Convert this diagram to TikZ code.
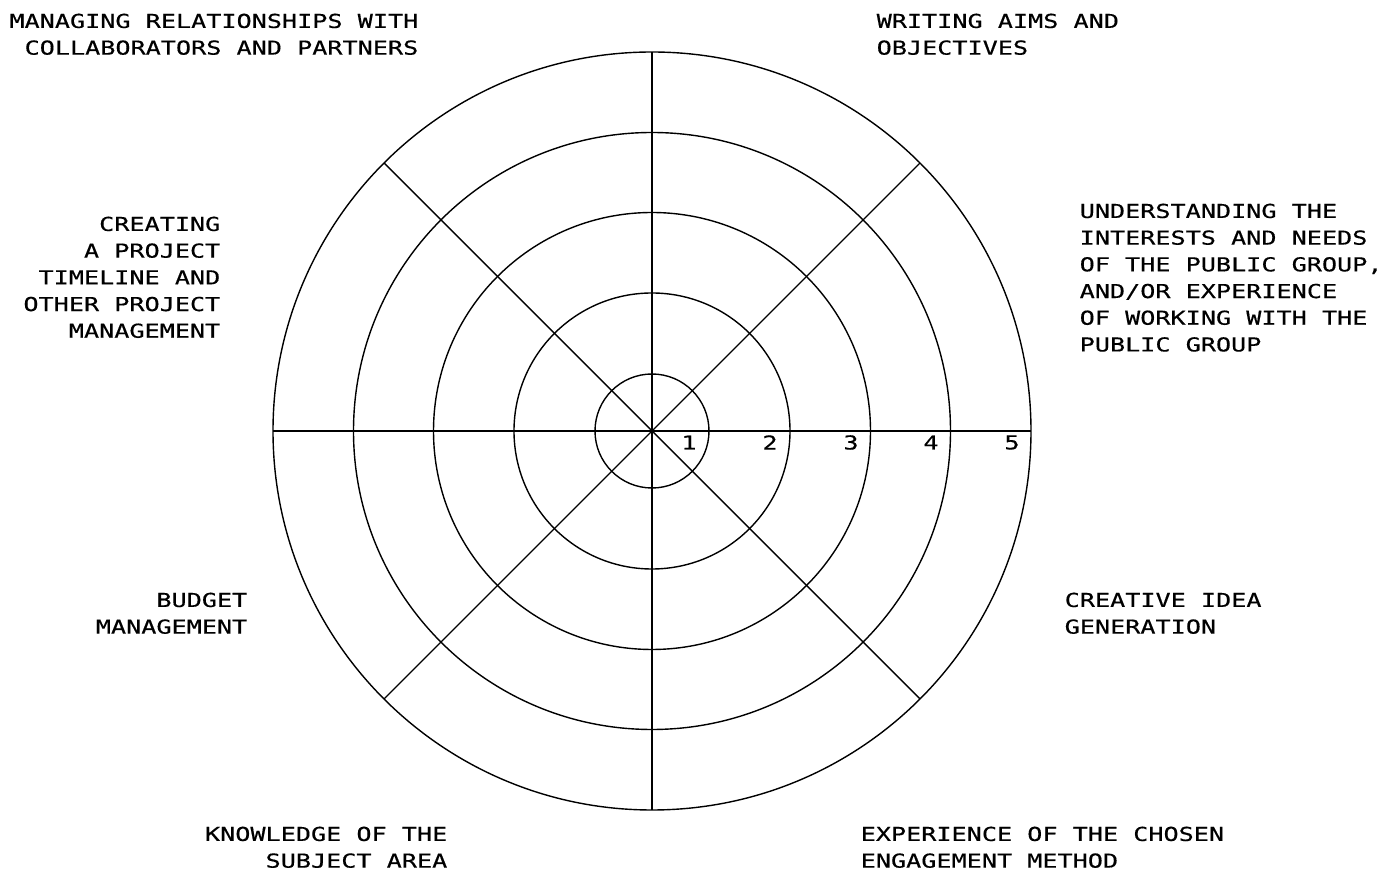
\documentclass[tikz,border=0pt]{standalone}
\usepackage{fontspec}
\usetikzlibrary{calc}
\newfontfamily\labelfont[FakeStretch=1.31,FakeBold=0.4]{DejaVu Sans Mono}
\begin{document}
\begin{tikzpicture}[x=0.5pt,y=-0.5pt,line width=0.7pt,
  lbl/.style={font=\labelfont\fontsize{9.6pt}{13.35pt}\selectfont,inner sep=0pt},
  lblr/.style={lbl,align=right,anchor=north east},
  lbll/.style={lbl,align=left,anchor=north west},
  num/.style={font=\labelfont\fontsize{9.6pt}{13.35pt}\selectfont,inner sep=0pt,anchor=center}]
\path[use as bounding box] (0,0) rectangle (1394,870);
\coordinate (c) at (652,431);
% rings
\foreach \r in {57,138,218.5,298.5,379} \draw (c) circle[radius=\r*0.5pt];
% spokes
\foreach \a in {0,45,...,315} {
  \coordinate (o\a) at ($(c)+(\a:379)$);
  \draw (c) -- (o\a);
}
% scale numbers
\node[num] (n1) at (689,442.5) {1};
\node[num] (n2) at (770,442.5) {2};
\node[num] (n3) at (851,442.5) {3};
\node[num] (n4) at (931,442.5) {4};
\node[num] (n5) at (1012,442.5) {5};
% labels
\node[lblr] (l1) at (419,13) {MANAGING RELATIONSHIPS WITH\\COLLABORATORS AND PARTNERS};
\node[lbll] (l2) at (876,13) {WRITING AIMS AND\\OBJECTIVES};
\node[lbll] (l3) at (1079,203) {UNDERSTANDING THE\\INTERESTS AND NEEDS\\OF THE PUBLIC GROUP,\\AND/OR EXPERIENCE\\OF WORKING WITH THE\\PUBLIC GROUP};
\node[lblr] (l4) at (221,216) {CREATING\\A PROJECT\\TIMELINE AND\\OTHER PROJECT\\MANAGEMENT};
\node[lblr] (l5) at (248,592) {BUDGET\\MANAGEMENT};
\node[lbll] (l6) at (1064,592) {CREATIVE IDEA\\GENERATION};
\node[lblr] (l7) at (448,826) {KNOWLEDGE OF THE\\SUBJECT AREA};
\node[lbll] (l8) at (860,826) {EXPERIENCE OF THE CHOSEN\\ENGAGEMENT METHOD};
\end{tikzpicture}
\end{document}
